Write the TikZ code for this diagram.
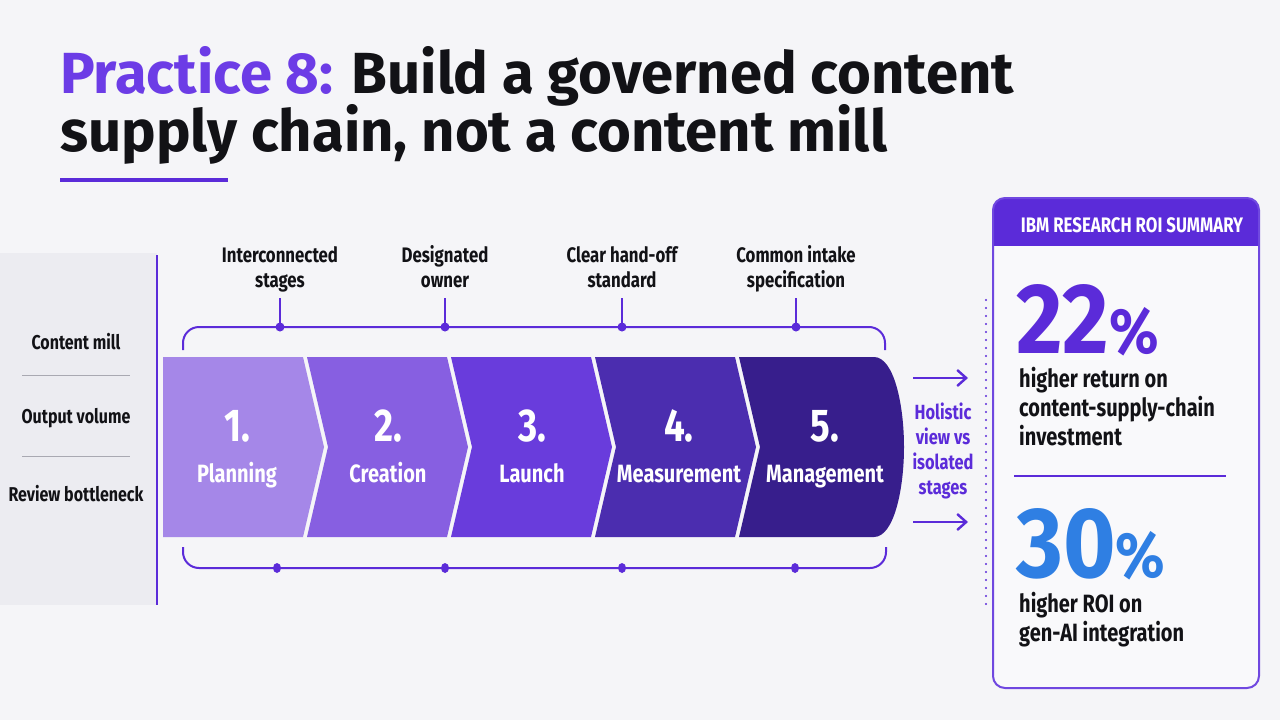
\documentclass[tikz,border=0pt]{standalone}
\usepackage{fontspec}
\setmainfont{Fira Sans}
\newfontfamily\narrowsans[FakeStretch=0.8]{Fira Sans}
\newfontfamily\statsans[FakeStretch=0.9]{Fira Sans}
\usetikzlibrary{arrows.meta}
\definecolor{slideink}{HTML}{121216}
\definecolor{slidepaper}{HTML}{F5F5F8}
\definecolor{slidepanel}{HTML}{ECECF1}
\definecolor{sliderule}{HTML}{A9A9B2}
\definecolor{brandpurple}{HTML}{5B2BD9}
\definecolor{titlepurple}{HTML}{6C3CE6}
\definecolor{cardline}{HTML}{7048E0}
\definecolor{cardfill}{HTML}{F9F9FB}
\definecolor{statblue}{HTML}{2F7FE3}
\definecolor{stageone}{HTML}{A587E8}
\definecolor{stagetwo}{HTML}{875FE1}
\definecolor{stagethree}{HTML}{693CDC}
\definecolor{stagefour}{HTML}{4B2DAF}
\definecolor{stagefive}{HTML}{371E8C}
\tikzset{
  titletext/.style={font=\bfseries\fontsize{58}{60}\selectfont, text=slideink,
    inner sep=0pt, anchor=base west},
  paneltext/.style={font=\narrowsans\bfseries\fontsize{20}{24}\selectfont,
    text=slideink, anchor=base},
  notetext/.style={font=\narrowsans\bfseries\fontsize{21}{24.5}\selectfont,
    text=slideink, align=center, anchor=south},
  stagenum/.style={font=\narrowsans\bfseries\fontsize{46}{46}\selectfont,
    text=white, anchor=base},
  stagename/.style={font=\narrowsans\bfseries\fontsize{25}{28}\selectfont,
    text=white, anchor=base},
  viewtext/.style={font=\narrowsans\bfseries\fontsize{20.5}{24.7}\selectfont,
    text=brandpurple, align=center},
  statbig/.style={font=\statsans\bfseries\fontsize{100}{100}\selectfont,
    inner sep=0pt, text depth=0pt, anchor=base west},
  stattext/.style={font=\narrowsans\bfseries\fontsize{25}{29}\selectfont,
    text=slideink, inner sep=0pt, anchor=base west},
  bracketline/.style={draw=brandpurple, line width=2pt},
  sidearrow/.style={draw=brandpurple, line width=2.4pt,
    -{Straight Barb[length=9pt,width=16pt]}}
}
\begin{document}
\begin{tikzpicture}[x=1pt,y=-1pt]
  \useasboundingbox (0,0) rectangle (1280,720);
  \fill[slidepaper] (0,0) rectangle (1280,720);

  % Heading
  \node[titletext] (title) at (60,93) {{\color{titlepurple}Practice 8:} Build a governed content};
  \node[titletext] (titleb) at (60,151) {supply chain, not a content mill};
  \fill[brandpurple] (60,178) rectangle (228,182);

  % Left panel: the content mill
  \fill[slidepanel] (0,253) rectangle (157,605);
  \draw[brandpurple, line width=2.5pt] (157,255) -- (157,605);
  \node[paneltext] (mill) at (76,349) {Content mill};
  \node[paneltext] (volume) at (76,423) {Output volume};
  \node[paneltext] (review) at (76,501) {Review bottleneck};
  \draw[sliderule, line width=1pt] (22,375) -- (130,375);
  \draw[sliderule, line width=1pt] (22,456) -- (130,456);

  % Five-stage chain
  \fill[stageone] (163,357) -- (303,357) -- (324,447) -- (303,537) -- (163,537) -- cycle;
  \fill[stagetwo] (307,357) -- (447,357) -- (468,447) -- (447,537) -- (307,537) -- (328,447) -- cycle;
  \fill[stagethree] (451,357) -- (591,357) -- (612,447) -- (591,537) -- (451,537) -- (472,447) -- cycle;
  \fill[stagefour] (595,357) -- (735,357) -- (756,447) -- (735,537) -- (595,537) -- (616,447) -- cycle;
  \fill[stagefive] (739,357) -- (874,357) .. controls (894,357) and (904,405) .. (904,447)
    .. controls (904,489) and (894,537) .. (874,537) -- (739,537) -- (760,447) -- cycle;
  \foreach \x/\name [count=\k] in {237/Planning, 388/Creation, 532/Launch,
    679/Measurement, 825/Management} {
    \node[stagenum] (num\k) at (\x,441) {\k.};
    \node[stagename] (stage\k) at (\x,482) {\name};
  }

  % Governance brackets
  \draw[bracketline, rounded corners=16pt] (183,350) -- (183,327) -- (885,327) -- (885,350);
  \draw[bracketline, rounded corners=16pt] (183,547) -- (183,568) -- (886,568) -- (886,547);
  \foreach \x/\txt [count=\k] in {280/{Interconnected\\stages}, 445/{Designated\\owner},
    622/{Clear hand-off\\standard}, 796/{Common intake\\specification}} {
    \node[notetext] (note\k) at (\x,298) {\txt\strut};
    \coordinate (tick\k) at (\x,327);
    \draw[bracketline] (note\k.south) -- (tick\k);
    \fill[brandpurple] (tick\k) circle[radius=4.5];
  }
  \foreach \x [count=\k] in {277,445,622,795} {
    \coordinate (foot\k) at (\x,568);
    \fill[brandpurple] (foot\k) ellipse[x radius=4, y radius=5];
  }

  % Holistic view
  \coordinate (viewtopa) at (913,378);
  \coordinate (viewtopb) at (968,378);
  \coordinate (viewbota) at (913,522);
  \coordinate (viewbotb) at (968,522);
  \draw[sidearrow] (viewtopa) -- (viewtopb);
  \draw[sidearrow] (viewbota) -- (viewbotb);
  \node[viewtext] (view) at (943,451) {Holistic\\view vs\\isolated\\stages};
  \draw[brandpurple, line width=2.2pt, line cap=round, dash pattern=on 0pt off 8pt]
    (986,300) -- (986,605);

  % ROI summary card
  \fill[cardfill, rounded corners=12pt] (993,198) rectangle (1259,688);
  \begin{scope}
    \clip[rounded corners=12pt] (993,198) rectangle (1259,688);
    \fill[brandpurple] (993,198) rectangle (1259,246);
  \end{scope}
  \draw[cardline, line width=2pt, rounded corners=12pt] (993,198) rectangle (1259,688);
  \node[font=\narrowsans\bfseries\fontsize{21}{24}\selectfont, text=white] (cardhead)
    at (1132,225) {IBM RESEARCH ROI SUMMARY};
  \node[statbig, text=brandpurple] (gain) at (1016,353)
    {22{\fontsize{64}{64}\selectfont\%}};
  \foreach \txt [count=\k] in {higher return on, content-supply-chain, investment}
    \node[stattext] (gainline\k) at (1019,358+29*\k) {\txt};
  \draw[brandpurple, line width=1.5pt] (1014,476) -- (1226,476);
  \node[statbig, text=statblue] (roi) at (1016,577)
    {30{\fontsize{64}{64}\selectfont\%}};
  \foreach \txt [count=\k] in {higher ROI on, gen-AI integration}
    \node[stattext] (roiline\k) at (1019,583+29*\k) {\txt};
\end{tikzpicture}
\end{document}
